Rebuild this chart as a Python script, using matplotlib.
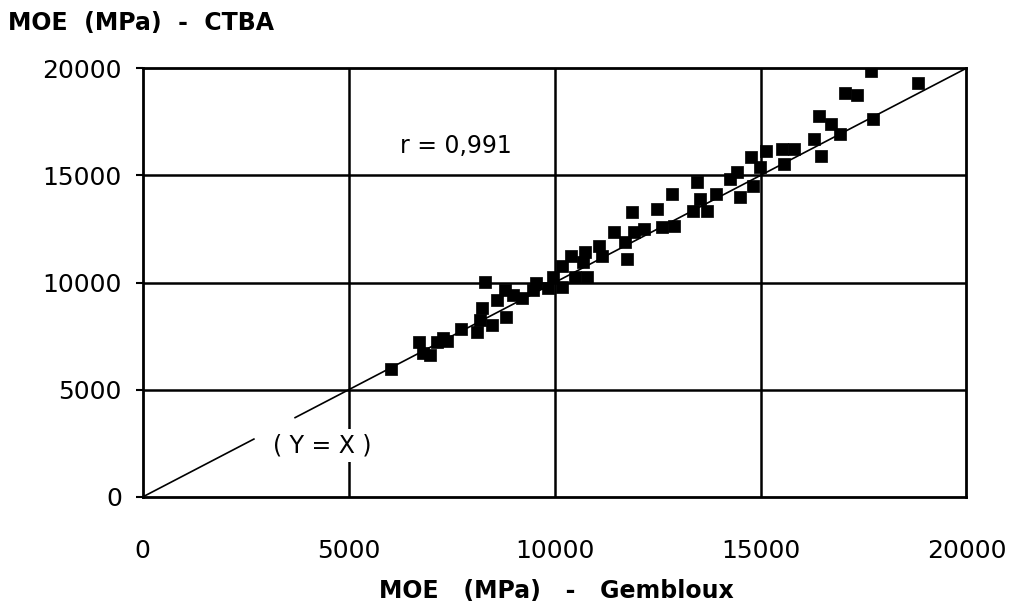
import numpy as np
import matplotlib
matplotlib.use("Agg")
import matplotlib.pyplot as plt

# ─── DATA ────────────────────────────────────────────────────────
moe_gembloux = [
    6040, 6800, 6700, 7400, 7280, 7740, 8180, 8470, 8250, 8830,
    8590, 8980, 8300, 8110, 7140, 6970,
    8790, 9220, 9830, 10170, 9950, 10190, 10410, 10730, 10680, 11090,
    11160, 11450, 11700, 11750, 11940, 11890, 12180, 10780, 10490, 9560, 9470,
    12480, 12860, 12620, 12910, 13520, 13710, 13470, 13930, 14250, 14490,
    14440, 14780, 14980, 14810, 13350,
    15140, 15510, 15820, 15580, 16480, 16310, 16430, 16720, 16920, 17040,
    17350, 17690, 17720, 18830,
]
moe_ctba = [
    5960, 6710, 7230, 7280, 7420, 7840, 8260, 8030, 8830, 8400,
    9200, 9440, 10050, 7700, 7230, 6620,
    9670, 9300, 9770, 9810, 10280, 10750, 11220, 11410, 10940, 11690,
    11220, 12350, 11880, 11080, 12350, 13290, 12490, 10280, 10240, 10000, 9670,
    13430, 14130, 12580, 12630, 13900, 13330, 14700, 14130, 14840, 13990,
    15170, 15870, 15400, 14510, 13330,
    16150, 16250, 16250, 15540, 15920, 16710, 17750, 17420, 16950, 18830,
    18730, 19860, 17650, 19300,
]
line_segments = [(0, 2700), (3700, 20000)]   # y = x, broken around its label
ticks = [0, 5000, 10000, 15000, 20000]
r_text = "r = 0,991"
line_text = "( Y = X )"

fig = plt.figure(figsize=(10.12, 6.09), dpi=100)
ax = fig.add_axes([0.141, 0.184, 0.814, 0.704])

# ─── GRID ────────────────────────────────────────────────────────
for v in ticks[1:-1]:
    ax.axvline(v, color="black", lw=1.8, zorder=1)
    ax.axhline(v, color="black", lw=1.8, zorder=1)

# ─── Y = X LINE ──────────────────────────────────────────────────
for a, b in line_segments:
    ax.plot([a, b], [a, b], color="black", lw=1.2, zorder=3)

ax.scatter(moe_gembloux, moe_ctba, marker="s", s=75, color="black",
           edgecolors="black", linewidths=0.5, zorder=4)

ax.text(7600, 16350, r_text, fontsize=17, ha="center", va="center",
        bbox=dict(facecolor="white", edgecolor="none", pad=2), zorder=5)
ax.text(4350, 2400, line_text, fontsize=17, ha="center", va="center",
        bbox=dict(facecolor="white", edgecolor="none", pad=3), zorder=5)

# ─── AXES ────────────────────────────────────────────────────────
ax.set_xlim(0, 20000)
ax.set_ylim(0, 20000)
ax.set_xticks(ticks)
ax.set_yticks(ticks)
ax.set_xticklabels([str(t) for t in ticks], fontsize=18)
ax.set_yticklabels([str(t) for t in ticks], fontsize=18)
ax.tick_params(axis="x", length=0, pad=30)
ax.tick_params(axis="y", length=5, width=1.5, pad=10)
for s in ax.spines.values():
    s.set_linewidth(2)
    s.set_color("black")

fig.text(0.008, 0.963, "MOE  (MPa)  -  CTBA", fontsize=17, fontweight="bold",
         ha="left", va="center")
fig.text(0.55, 0.03, "MOE   (MPa)   -   Gembloux", fontsize=17, fontweight="bold",
         ha="center", va="center")

fig.savefig("out.png", dpi=100)
